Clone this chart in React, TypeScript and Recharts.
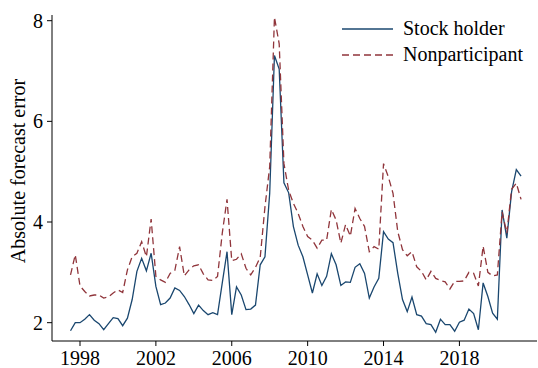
import { LineChart, Line, XAxis, YAxis, Legend, Label } from 'recharts';

// quarterly observations, 1997Q3 .. 2021Q2
const START_YEAR = 1997.5;

const stockHolder = [
  1.84, 2.0, 2.0, 2.07, 2.16, 2.05, 1.98, 1.86, 1.98, 2.1, 2.08, 1.94,
  2.09, 2.46, 3.02, 3.28, 3.03, 3.38, 2.72, 2.36, 2.39, 2.49, 2.69, 2.64,
  2.52, 2.36, 2.18, 2.35, 2.24, 2.16, 2.2, 2.16, 2.79, 3.41, 2.16, 2.71,
  2.55, 2.26, 2.27, 2.35, 3.15, 3.31, 4.57, 7.31, 7.04, 4.78, 4.58, 3.91,
  3.54, 3.31, 2.95, 2.59, 2.97, 2.74, 2.92, 3.37, 3.15, 2.74, 2.81, 2.8,
  3.1, 3.17, 2.98, 2.49, 2.71, 2.88, 3.81, 3.66, 3.59, 2.98, 2.46, 2.22,
  2.51, 2.16, 2.13, 1.98, 1.96, 1.81, 2.07, 1.96, 1.96, 1.83, 2.01, 2.05,
  2.27, 2.18, 1.86, 2.79, 2.52, 2.19, 2.07, 4.24, 3.68, 4.6, 5.04, 4.91,
];

const nonparticipant = [
  2.95, 3.35, 2.73, 2.62, 2.53, 2.55, 2.55, 2.49, 2.51, 2.59, 2.65, 2.6,
  3.05, 3.31, 3.38, 3.61, 3.31, 4.06, 2.92, 2.85, 2.8, 2.98, 3.04, 3.51,
  2.93, 3.05, 3.13, 3.15, 2.97, 2.85, 2.84, 2.92, 3.78, 4.45, 3.23, 3.26,
  3.37, 3.08, 2.95, 3.1, 3.3, 4.3, 5.1, 8.07, 7.54, 5.16, 4.63, 4.37,
  4.17, 3.91, 3.71, 3.64, 3.48, 3.64, 3.64, 4.25, 4.04, 3.58, 3.95, 3.72,
  4.27, 4.07, 3.91, 3.41, 3.51, 3.46, 5.16, 4.9, 4.57, 3.81, 3.45, 3.33,
  3.41, 3.11, 3.02, 2.85, 3.02, 2.88, 2.84, 2.81, 2.67, 2.82, 2.82, 2.83,
  3.0, 2.98, 2.73, 3.52, 3.0, 2.93, 2.95, 4.2, 3.78, 4.65, 4.77, 4.45,
];

const xTicks = [1998, 2002, 2006, 2010, 2014, 2018];
const yTicks = [2, 4, 6, 8];

const NAVY = '#1a476f';
const MAROON = '#90353b';
const FONT = '"Liberation Serif", "Times New Roman", serif';
const FS = 20;

const data = stockHolder.map((v, i) => ({
  t: START_YEAR + i / 4,
  stock: v,
  nonpart: nonparticipant[i],
}));

function LegendBox() {
  return (
    <svg width={196} height={52} style={{ display: 'block' }}>
      <line x1={1} x2={52} y1={13} y2={13} stroke={NAVY} strokeWidth={1.3} />
      <text x={62} y={19} fontSize={FS} fontFamily={FONT} fill="#000">
        Stock holder
      </text>
      <line x1={1} x2={52} y1={39} y2={39} stroke={MAROON} strokeWidth={1.3} strokeDasharray="7 4" />
      <text x={62} y={45} fontSize={FS} fontFamily={FONT} fill="#000">
        Nonparticipant
      </text>
    </svg>
  );
}

export default function App() {
  const tickStyle = { fontSize: FS, fontFamily: FONT, fill: '#000' };
  return (
    <div style={{ position: 'absolute', left: 0, top: 0, background: '#fff' }}>
      <LineChart width={538} height={368} data={data} margin={{ top: 15, right: 1, bottom: 0, left: 0 }}>
        <XAxis
          dataKey="t"
          type="number"
          domain={[1996.524, 2022.09]}
          allowDataOverflow
          ticks={xTicks}
          tick={tickStyle}
          tickSize={5}
          tickMargin={5}
          height={27}
          stroke="#000"
          tickLine={{ stroke: '#000' }}
        />
        <YAxis
          type="number"
          domain={[1.636, 8.113]}
          allowDataOverflow
          ticks={yTicks}
          tick={tickStyle}
          tickSize={5}
          tickMargin={4}
          width={52}
          stroke="#000"
          tickLine={{ stroke: '#000' }}
        >
          <Label
            content={() => (
              <text
                x={25}
                y={171}
                transform="rotate(-90 25 171)"
                textAnchor="middle"
                fontSize={FS}
                fontFamily={FONT}
                fill="#000"
              >
                Absolute forecast error
              </text>
            )}
          />
        </YAxis>
        <Legend
          layout="vertical"
          align="center"
          verticalAlign="middle"
          content={() => <LegendBox />}
          wrapperStyle={{ position: 'absolute', left: 341, top: 16, width: 196, height: 52 }}
        />
        <Line
          type="linear"
          dataKey="stock"
          name="Stock holder"
          stroke={NAVY}
          strokeWidth={1.3}
          dot={false}
          isAnimationActive={false}
        />
        <Line
          type="linear"
          dataKey="nonpart"
          name="Nonparticipant"
          stroke={MAROON}
          strokeWidth={1.3}
          strokeDasharray="7 4"
          dot={false}
          isAnimationActive={false}
        />
      </LineChart>
    </div>
  );
}
